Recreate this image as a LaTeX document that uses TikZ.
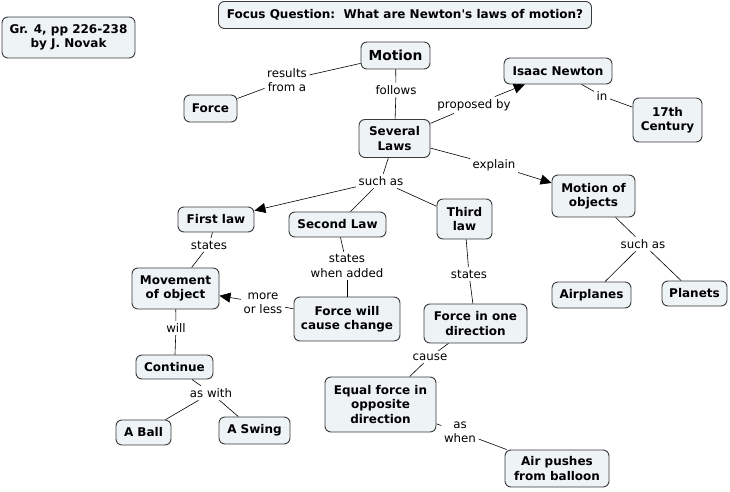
\documentclass[tikz,border=0pt]{standalone}
\usepackage{fontspec}
\newfontfamily\dvs{DejaVu Sans}
\usetikzlibrary{arrows.meta}
\definecolor{concfill}{HTML}{EEF3F6}
\definecolor{concdraw}{HTML}{3A3A3A}
\tikzset{
  concept/.style={draw=concdraw, line width=0.9pt, fill=concfill, rounded corners=6pt,
    font=\dvs\fontsize{12}{14.3}\selectfont\bfseries, align=center, inner sep=2pt},
  linklab/.style={font=\dvs\fontsize{11.8}{14.3}\selectfont, align=center, inner sep=2.5pt},
  conn/.style={draw=black, line width=0.6pt},
  arr/.style={conn, -{Triangle[length=11pt,width=10pt]}}
}
\begin{document}
\begin{tikzpicture}[x=1pt,y=-1pt]
\useasboundingbox (0,0) rectangle (730,492);
% concepts
\node[concept, minimum width=133pt, minimum height=41pt] (gr) at (68.5,37.5) {Gr. 4, pp 226-238\\by J. Novak};
\node[concept, minimum width=373pt, minimum height=27pt] (focus) at (405,15) {Focus Question:\ \ What are Newton's laws of motion?};
\node[concept, minimum width=69pt, minimum height=27pt, font=\dvs\fontsize{13.8}{16}\selectfont\bfseries] (motion) at (395.5,55.5) {Motion};
\node[concept, minimum width=53pt, minimum height=27pt] (force) at (210.5,108.5) {Force};
\node[concept, minimum width=108pt, minimum height=26pt] (newton) at (558,71) {Isaac Newton};
\node[concept, minimum width=69pt, minimum height=44pt] (century) at (667.5,120) {17th\\Century};
\node[concept, minimum width=71pt, minimum height=38pt] (laws) at (394.5,138.5) {Several\\Laws};
\node[concept, minimum width=83pt, minimum height=42pt] (objects) at (593.5,196) {Motion of\\objects};
\node[concept, minimum width=76pt, minimum height=25pt] (first) at (216,219.5) {First law};
\node[concept, minimum width=97pt, minimum height=25pt] (second) at (337.5,224.5) {Second Law};
\node[concept, minimum width=55pt, minimum height=40pt] (third) at (464.5,219) {Third\\law};
\node[concept, minimum width=87pt, minimum height=41pt] (movement) at (175.5,288.5) {Movement\\of object};
\node[concept, minimum width=106pt, minimum height=44pt] (fwcc) at (347,319) {Force will\\cause change};
\node[concept, minimum width=77pt, minimum height=24pt] (continue) at (174.5,367) {Continue};
\node[concept, minimum width=55pt, minimum height=25pt] (ball) at (143.5,432.5) {A Ball};
\node[concept, minimum width=71pt, minimum height=27pt] (swing) at (254.5,430.5) {A Swing};
\node[concept, minimum width=103pt, minimum height=39pt] (fiod) at (475.5,323.5) {Force in one\\direction};
\node[concept, minimum width=111pt, minimum height=55pt] (equal) at (380.5,404.5) {Equal force in\\opposite\\direction};
\node[concept, minimum width=104pt, minimum height=37pt] (air) at (557,468.5) {Air pushes\\from balloon};
\node[concept, minimum width=79pt, minimum height=26pt] (airplanes) at (591.5,295) {Airplanes};
\node[concept, minimum width=65pt, minimum height=25pt] (planets) at (694.5,293.5) {Planets};
% link labels
\node[linklab] (l1) at (287,80) {results\\from a};
\node[linklab] (l2) at (396,90) {follows};
\node[linklab] (l3) at (474,105) {proposed by};
\node[linklab] (l4) at (602,96) {in};
\node[linklab] (l5) at (494,165) {explain};
\node[linklab] (l6) at (381,181) {such as};
\node[linklab] (l7) at (643,244) {such as};
\node[linklab] (l8) at (209,245) {states};
\node[linklab] (l9) at (347,266) {states\\when added};
\node[linklab] (l10) at (263,303) {more\\or less};
\node[linklab] (l11) at (176,328) {will};
\node[linklab] (l12) at (469,274) {states};
\node[linklab] (l13) at (430,357) {cause};
\node[linklab] (l14) at (211,393) {as with};
\node[linklab] (l15) at (460,432) {as\\when};
% connectors
\draw[conn] (motion) -- (l1);
\draw[conn] (l1) -- (force);
\draw[conn] (motion) -- (l2);
\draw[conn] (l2) -- (laws);
\draw[conn] (laws) -- (l3);
\draw[arr] (l3) -- (newton);
\draw[conn] (newton) -- (l4);
\draw[conn] (l4) -- (century);
\draw[conn] (laws) -- (l5);
\draw[arr] (l5) -- (objects);
\draw[conn] (laws) -- (l6);
\draw[arr] (l6) -- (first);
\draw[conn] (l6) -- (second);
\draw[conn] (l6) -- (third);
\draw[conn] (objects) -- (l7);
\draw[conn] (l7) -- (airplanes);
\draw[conn] (l7) -- (planets);
\draw[conn] (first) -- (l8);
\draw[conn] (l8) -- (movement);
\draw[conn] (second) -- (l9);
\draw[conn] (l9) -- (fwcc);
\draw[conn] (fwcc) -- (l10);
\draw[arr] (l10) -- (movement);
\draw[conn] (movement) -- (l11);
\draw[conn] (l11) -- (continue);
\draw[conn] (third) -- (l12);
\draw[conn] (l12) -- (fiod);
\draw[conn] (fiod) -- (l13);
\draw[conn] (l13) -- (equal);
\draw[conn] (continue) -- (l14);
\draw[conn] (l14) -- (ball);
\draw[conn] (l14) -- (swing);
\draw[conn] (equal) -- (l15);
\draw[conn] (l15) -- (air);
\end{tikzpicture}
\end{document}
